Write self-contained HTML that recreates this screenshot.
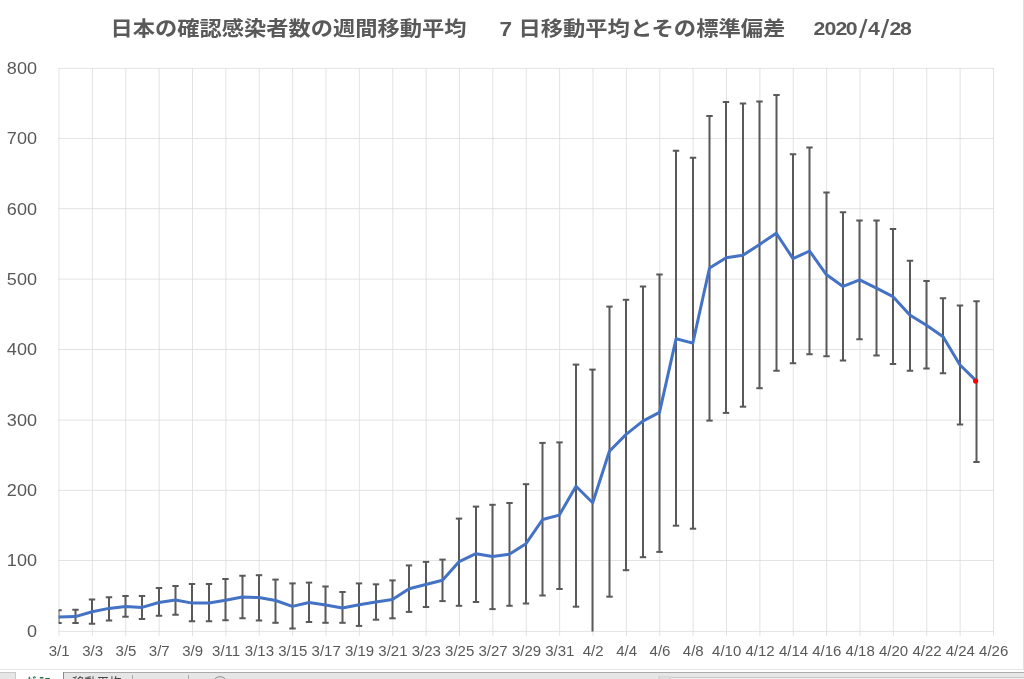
<!DOCTYPE html>
<html lang="ja"><head><meta charset="utf-8"><title>日本の確認感染者数の週間移動平均</title>
<style>
html,body{margin:0;padding:0;background:#fff;}
body{width:1024px;height:679px;overflow:hidden;position:relative;font-family:"Liberation Sans","Noto Sans CJK JP",sans-serif;}
svg{position:absolute;left:0;top:0;display:block}
.ttl{font-family:"Liberation Sans","Noto Sans CJK JP",sans-serif;font-weight:700;fill:#595959}
.ax{font-family:"Liberation Sans","Noto Sans CJK JP",sans-serif;fill:#595959}
</style></head><body>
<svg width="1024" height="679" viewBox="0 0 1024 679">
<rect x="0" y="0" width="1024" height="679" fill="#ffffff"/>
<rect x="1023" y="0" width="1" height="670" fill="#e0e0e0"/>
<rect x="0" y="669" width="1024" height="1" fill="#e6e6e6"/>
<g stroke="#d9d9d9" stroke-width="0.75" fill="none">
<line x1="58.60" x2="993.90" y1="631.40" y2="631.40"/>
<line x1="58.60" x2="993.90" y1="560.50" y2="560.50"/>
<line x1="58.60" x2="993.90" y1="490.40" y2="490.40"/>
<line x1="58.60" x2="993.90" y1="420.10" y2="420.10"/>
<line x1="58.60" x2="993.90" y1="349.50" y2="349.50"/>
<line x1="58.60" x2="993.90" y1="279.10" y2="279.10"/>
<line x1="58.60" x2="993.90" y1="208.65" y2="208.65"/>
<line x1="58.60" x2="993.90" y1="138.45" y2="138.45"/>
<line x1="58.60" x2="993.90" y1="68.45" y2="68.45"/>
<line x1="59.00" x2="59.00" y1="68.0" y2="636"/>
<line x1="92.38" x2="92.38" y1="68.0" y2="636"/>
<line x1="125.75" x2="125.75" y1="68.0" y2="636"/>
<line x1="159.12" x2="159.12" y1="68.0" y2="636"/>
<line x1="192.50" x2="192.50" y1="68.0" y2="636"/>
<line x1="225.88" x2="225.88" y1="68.0" y2="636"/>
<line x1="259.25" x2="259.25" y1="68.0" y2="636"/>
<line x1="292.62" x2="292.62" y1="68.0" y2="636"/>
<line x1="326.00" x2="326.00" y1="68.0" y2="636"/>
<line x1="359.38" x2="359.38" y1="68.0" y2="636"/>
<line x1="392.75" x2="392.75" y1="68.0" y2="636"/>
<line x1="426.12" x2="426.12" y1="68.0" y2="636"/>
<line x1="459.50" x2="459.50" y1="68.0" y2="636"/>
<line x1="492.88" x2="492.88" y1="68.0" y2="636"/>
<line x1="526.25" x2="526.25" y1="68.0" y2="636"/>
<line x1="559.62" x2="559.62" y1="68.0" y2="636"/>
<line x1="593.00" x2="593.00" y1="68.0" y2="636"/>
<line x1="626.38" x2="626.38" y1="68.0" y2="636"/>
<line x1="659.75" x2="659.75" y1="68.0" y2="636"/>
<line x1="693.12" x2="693.12" y1="68.0" y2="636"/>
<line x1="726.50" x2="726.50" y1="68.0" y2="636"/>
<line x1="759.88" x2="759.88" y1="68.0" y2="636"/>
<line x1="793.25" x2="793.25" y1="68.0" y2="636"/>
<line x1="826.62" x2="826.62" y1="68.0" y2="636"/>
<line x1="860.00" x2="860.00" y1="68.0" y2="636"/>
<line x1="893.38" x2="893.38" y1="68.0" y2="636"/>
<line x1="926.75" x2="926.75" y1="68.0" y2="636"/>
<line x1="960.12" x2="960.12" y1="68.0" y2="636"/>
<line x1="993.50" x2="993.50" y1="68.0" y2="636"/>
</g>
<defs><clipPath id="plotclip"><rect x="58.6" y="60" width="940" height="571.9"/></clipPath></defs>
<g clip-path="url(#plotclip)">
<g stroke="#595959" stroke-width="2" fill="none">
<line x1="58.5" x2="58.5" y1="610.3" y2="623.0"/>
<line x1="55.3" x2="61.7" y1="610.3" y2="610.3"/>
<line x1="55.3" x2="61.7" y1="623.0" y2="623.0"/>
<line x1="75.5" x2="75.5" y1="609.7" y2="623.0"/>
<line x1="72.3" x2="78.7" y1="609.7" y2="609.7"/>
<line x1="72.3" x2="78.7" y1="623.0" y2="623.0"/>
<line x1="92.0" x2="92.0" y1="599.6" y2="623.8"/>
<line x1="88.8" x2="95.2" y1="599.6" y2="599.6"/>
<line x1="88.8" x2="95.2" y1="623.8" y2="623.8"/>
<line x1="109.0" x2="109.0" y1="597.2" y2="620.5"/>
<line x1="105.8" x2="112.2" y1="597.2" y2="597.2"/>
<line x1="105.8" x2="112.2" y1="620.5" y2="620.5"/>
<line x1="125.5" x2="125.5" y1="595.9" y2="616.8"/>
<line x1="122.3" x2="128.7" y1="595.9" y2="595.9"/>
<line x1="122.3" x2="128.7" y1="616.8" y2="616.8"/>
<line x1="142.0" x2="142.0" y1="595.9" y2="618.9"/>
<line x1="138.8" x2="145.2" y1="595.9" y2="595.9"/>
<line x1="138.8" x2="145.2" y1="618.9" y2="618.9"/>
<line x1="159.0" x2="159.0" y1="587.9" y2="615.8"/>
<line x1="155.8" x2="162.2" y1="587.9" y2="587.9"/>
<line x1="155.8" x2="162.2" y1="615.8" y2="615.8"/>
<line x1="175.5" x2="175.5" y1="585.9" y2="614.8"/>
<line x1="172.3" x2="178.7" y1="585.9" y2="585.9"/>
<line x1="172.3" x2="178.7" y1="614.8" y2="614.8"/>
<line x1="192.0" x2="192.0" y1="584.1" y2="621.2"/>
<line x1="188.8" x2="195.2" y1="584.1" y2="584.1"/>
<line x1="188.8" x2="195.2" y1="621.2" y2="621.2"/>
<line x1="209.0" x2="209.0" y1="584.1" y2="621.2"/>
<line x1="205.8" x2="212.2" y1="584.1" y2="584.1"/>
<line x1="205.8" x2="212.2" y1="621.2" y2="621.2"/>
<line x1="225.5" x2="225.5" y1="579.1" y2="620.3"/>
<line x1="222.3" x2="228.7" y1="579.1" y2="579.1"/>
<line x1="222.3" x2="228.7" y1="620.3" y2="620.3"/>
<line x1="242.5" x2="242.5" y1="575.7" y2="618.3"/>
<line x1="239.3" x2="245.7" y1="575.7" y2="575.7"/>
<line x1="239.3" x2="245.7" y1="618.3" y2="618.3"/>
<line x1="259.0" x2="259.0" y1="575.2" y2="620.5"/>
<line x1="255.8" x2="262.2" y1="575.2" y2="575.2"/>
<line x1="255.8" x2="262.2" y1="620.5" y2="620.5"/>
<line x1="275.5" x2="275.5" y1="579.6" y2="622.8"/>
<line x1="272.3" x2="278.7" y1="579.6" y2="579.6"/>
<line x1="272.3" x2="278.7" y1="622.8" y2="622.8"/>
<line x1="292.5" x2="292.5" y1="583.4" y2="628.5"/>
<line x1="289.3" x2="295.7" y1="583.4" y2="583.4"/>
<line x1="289.3" x2="295.7" y1="628.5" y2="628.5"/>
<line x1="309.0" x2="309.0" y1="582.6" y2="622.0"/>
<line x1="305.8" x2="312.2" y1="582.6" y2="582.6"/>
<line x1="305.8" x2="312.2" y1="622.0" y2="622.0"/>
<line x1="325.5" x2="325.5" y1="586.5" y2="622.8"/>
<line x1="322.3" x2="328.7" y1="586.5" y2="586.5"/>
<line x1="322.3" x2="328.7" y1="622.8" y2="622.8"/>
<line x1="342.5" x2="342.5" y1="592.0" y2="622.8"/>
<line x1="339.3" x2="345.7" y1="592.0" y2="592.0"/>
<line x1="339.3" x2="345.7" y1="622.8" y2="622.8"/>
<line x1="359.0" x2="359.0" y1="583.4" y2="625.9"/>
<line x1="355.8" x2="362.2" y1="583.4" y2="583.4"/>
<line x1="355.8" x2="362.2" y1="625.9" y2="625.9"/>
<line x1="376.0" x2="376.0" y1="584.3" y2="619.7"/>
<line x1="372.8" x2="379.2" y1="584.3" y2="584.3"/>
<line x1="372.8" x2="379.2" y1="619.7" y2="619.7"/>
<line x1="392.5" x2="392.5" y1="580.4" y2="618.3"/>
<line x1="389.3" x2="395.7" y1="580.4" y2="580.4"/>
<line x1="389.3" x2="395.7" y1="618.3" y2="618.3"/>
<line x1="409.0" x2="409.0" y1="565.4" y2="611.9"/>
<line x1="405.8" x2="412.2" y1="565.4" y2="565.4"/>
<line x1="405.8" x2="412.2" y1="611.9" y2="611.9"/>
<line x1="426.0" x2="426.0" y1="561.9" y2="607.0"/>
<line x1="422.8" x2="429.2" y1="561.9" y2="561.9"/>
<line x1="422.8" x2="429.2" y1="607.0" y2="607.0"/>
<line x1="442.5" x2="442.5" y1="559.6" y2="601.1"/>
<line x1="439.3" x2="445.7" y1="559.6" y2="559.6"/>
<line x1="439.3" x2="445.7" y1="601.1" y2="601.1"/>
<line x1="459.0" x2="459.0" y1="518.6" y2="605.8"/>
<line x1="455.8" x2="462.2" y1="518.6" y2="518.6"/>
<line x1="455.8" x2="462.2" y1="605.8" y2="605.8"/>
<line x1="476.0" x2="476.0" y1="506.6" y2="602.0"/>
<line x1="472.8" x2="479.2" y1="506.6" y2="506.6"/>
<line x1="472.8" x2="479.2" y1="602.0" y2="602.0"/>
<line x1="492.5" x2="492.5" y1="504.8" y2="609.1"/>
<line x1="489.3" x2="495.7" y1="504.8" y2="504.8"/>
<line x1="489.3" x2="495.7" y1="609.1" y2="609.1"/>
<line x1="509.5" x2="509.5" y1="503.0" y2="605.8"/>
<line x1="506.3" x2="512.7" y1="503.0" y2="503.0"/>
<line x1="506.3" x2="512.7" y1="605.8" y2="605.8"/>
<line x1="526.0" x2="526.0" y1="484.2" y2="603.5"/>
<line x1="522.8" x2="529.2" y1="484.2" y2="484.2"/>
<line x1="522.8" x2="529.2" y1="603.5" y2="603.5"/>
<line x1="542.5" x2="542.5" y1="442.9" y2="595.5"/>
<line x1="539.3" x2="545.7" y1="442.9" y2="442.9"/>
<line x1="539.3" x2="545.7" y1="595.5" y2="595.5"/>
<line x1="559.5" x2="559.5" y1="442.4" y2="589.0"/>
<line x1="556.3" x2="562.7" y1="442.4" y2="442.4"/>
<line x1="556.3" x2="562.7" y1="589.0" y2="589.0"/>
<line x1="576.0" x2="576.0" y1="364.6" y2="606.7"/>
<line x1="572.8" x2="579.2" y1="364.6" y2="364.6"/>
<line x1="572.8" x2="579.2" y1="606.7" y2="606.7"/>
<line x1="592.5" x2="592.5" y1="369.6" y2="631.4"/>
<line x1="589.3" x2="595.7" y1="369.6" y2="369.6"/>
<line x1="609.5" x2="609.5" y1="306.6" y2="596.7"/>
<line x1="606.3" x2="612.7" y1="306.6" y2="306.6"/>
<line x1="606.3" x2="612.7" y1="596.7" y2="596.7"/>
<line x1="626.0" x2="626.0" y1="299.8" y2="570.2"/>
<line x1="622.8" x2="629.2" y1="299.8" y2="299.8"/>
<line x1="622.8" x2="629.2" y1="570.2" y2="570.2"/>
<line x1="643.0" x2="643.0" y1="286.5" y2="557.2"/>
<line x1="639.8" x2="646.2" y1="286.5" y2="286.5"/>
<line x1="639.8" x2="646.2" y1="557.2" y2="557.2"/>
<line x1="659.5" x2="659.5" y1="274.5" y2="551.9"/>
<line x1="656.3" x2="662.7" y1="274.5" y2="274.5"/>
<line x1="656.3" x2="662.7" y1="551.9" y2="551.9"/>
<line x1="676.0" x2="676.0" y1="150.7" y2="525.7"/>
<line x1="672.8" x2="679.2" y1="150.7" y2="150.7"/>
<line x1="672.8" x2="679.2" y1="525.7" y2="525.7"/>
<line x1="693.0" x2="693.0" y1="157.8" y2="528.7"/>
<line x1="689.8" x2="696.2" y1="157.8" y2="157.8"/>
<line x1="689.8" x2="696.2" y1="528.7" y2="528.7"/>
<line x1="709.5" x2="709.5" y1="116.0" y2="420.6"/>
<line x1="706.3" x2="712.7" y1="116.0" y2="116.0"/>
<line x1="706.3" x2="712.7" y1="420.6" y2="420.6"/>
<line x1="726.0" x2="726.0" y1="102.1" y2="412.9"/>
<line x1="722.8" x2="729.2" y1="102.1" y2="102.1"/>
<line x1="722.8" x2="729.2" y1="412.9" y2="412.9"/>
<line x1="743.0" x2="743.0" y1="103.6" y2="406.7"/>
<line x1="739.8" x2="746.2" y1="103.6" y2="103.6"/>
<line x1="739.8" x2="746.2" y1="406.7" y2="406.7"/>
<line x1="759.5" x2="759.5" y1="101.5" y2="388.2"/>
<line x1="756.3" x2="762.7" y1="101.5" y2="101.5"/>
<line x1="756.3" x2="762.7" y1="388.2" y2="388.2"/>
<line x1="776.5" x2="776.5" y1="95.0" y2="370.7"/>
<line x1="773.3" x2="779.7" y1="95.0" y2="95.0"/>
<line x1="773.3" x2="779.7" y1="370.7" y2="370.7"/>
<line x1="793.0" x2="793.0" y1="154.3" y2="363.3"/>
<line x1="789.8" x2="796.2" y1="154.3" y2="154.3"/>
<line x1="789.8" x2="796.2" y1="363.3" y2="363.3"/>
<line x1="809.5" x2="809.5" y1="147.4" y2="354.2"/>
<line x1="806.3" x2="812.7" y1="147.4" y2="147.4"/>
<line x1="806.3" x2="812.7" y1="354.2" y2="354.2"/>
<line x1="826.5" x2="826.5" y1="192.4" y2="356.3"/>
<line x1="823.3" x2="829.7" y1="192.4" y2="192.4"/>
<line x1="823.3" x2="829.7" y1="356.3" y2="356.3"/>
<line x1="843.0" x2="843.0" y1="212.2" y2="360.4"/>
<line x1="839.8" x2="846.2" y1="212.2" y2="212.2"/>
<line x1="839.8" x2="846.2" y1="360.4" y2="360.4"/>
<line x1="859.5" x2="859.5" y1="220.4" y2="339.2"/>
<line x1="856.3" x2="862.7" y1="220.4" y2="220.4"/>
<line x1="856.3" x2="862.7" y1="339.2" y2="339.2"/>
<line x1="876.5" x2="876.5" y1="220.4" y2="355.4"/>
<line x1="873.3" x2="879.7" y1="220.4" y2="220.4"/>
<line x1="873.3" x2="879.7" y1="355.4" y2="355.4"/>
<line x1="893.0" x2="893.0" y1="229.0" y2="363.9"/>
<line x1="889.8" x2="896.2" y1="229.0" y2="229.0"/>
<line x1="889.8" x2="896.2" y1="363.9" y2="363.9"/>
<line x1="910.0" x2="910.0" y1="260.8" y2="370.7"/>
<line x1="906.8" x2="913.2" y1="260.8" y2="260.8"/>
<line x1="906.8" x2="913.2" y1="370.7" y2="370.7"/>
<line x1="926.5" x2="926.5" y1="281.1" y2="368.6"/>
<line x1="923.3" x2="929.7" y1="281.1" y2="281.1"/>
<line x1="923.3" x2="929.7" y1="368.6" y2="368.6"/>
<line x1="943.0" x2="943.0" y1="298.2" y2="373.3"/>
<line x1="939.8" x2="946.2" y1="298.2" y2="298.2"/>
<line x1="939.8" x2="946.2" y1="373.3" y2="373.3"/>
<line x1="960.0" x2="960.0" y1="305.6" y2="424.6"/>
<line x1="956.8" x2="963.2" y1="305.6" y2="305.6"/>
<line x1="956.8" x2="963.2" y1="424.6" y2="424.6"/>
<line x1="976.5" x2="976.5" y1="301.3" y2="462.0"/>
<line x1="973.3" x2="979.7" y1="301.3" y2="301.3"/>
<line x1="973.3" x2="979.7" y1="462.0" y2="462.0"/>
</g>
<polyline points="58.7,617.1 75.4,616.6 92.1,611.7 108.8,608.4 125.5,606.4 142.1,607.4 158.8,602.5 175.5,600.0 192.2,603.1 208.9,603.1 225.6,600.2 242.3,597.0 258.9,597.6 275.6,600.5 292.3,606.4 309.0,602.5 325.7,605.0 342.4,608.0 359.1,604.8 375.8,601.9 392.4,599.6 409.1,588.8 425.8,584.5 442.5,580.2 459.2,561.6 475.9,553.7 492.6,556.6 509.3,554.3 526.0,543.7 542.6,519.5 559.3,515.1 576.0,486.2 592.7,502.7 609.4,451.2 626.1,434.4 642.8,421.1 659.5,412.3 676.1,338.7 692.8,343.1 709.5,268.0 726.2,257.7 742.9,255.3 759.6,244.4 776.3,233.2 793.0,258.6 809.6,251.0 826.3,274.6 843.0,286.4 859.7,279.9 876.4,288.2 893.1,296.7 909.8,315.0 926.5,325.3 943.1,336.8 959.8,364.8 976.5,381.1" fill="none" stroke="#4472c4" stroke-width="3" stroke-linejoin="round" stroke-linecap="round"/>
<circle cx="975.6" cy="381.1" r="2.6" fill="#ff0000"/>
</g>
<g class="ax" font-size="16.5">
<text x="26.95" y="637.3" textLength="10.05" lengthAdjust="spacingAndGlyphs">0</text>
<text x="6.85" y="566.4" textLength="30.15" lengthAdjust="spacingAndGlyphs">100</text>
<text x="6.85" y="496.3" textLength="30.15" lengthAdjust="spacingAndGlyphs">200</text>
<text x="6.85" y="426.0" textLength="30.15" lengthAdjust="spacingAndGlyphs">300</text>
<text x="6.85" y="355.4" textLength="30.15" lengthAdjust="spacingAndGlyphs">400</text>
<text x="6.85" y="285.0" textLength="30.15" lengthAdjust="spacingAndGlyphs">500</text>
<text x="6.85" y="214.6" textLength="30.15" lengthAdjust="spacingAndGlyphs">600</text>
<text x="6.85" y="144.3" textLength="30.15" lengthAdjust="spacingAndGlyphs">700</text>
<text x="6.85" y="74.4" textLength="30.15" lengthAdjust="spacingAndGlyphs">800</text>
</g>
<g class="ax" font-size="15" text-anchor="middle">
<text x="59.2" y="656.2">3/1</text>
<text x="92.6" y="656.2">3/3</text>
<text x="126.0" y="656.2">3/5</text>
<text x="159.3" y="656.2">3/7</text>
<text x="192.7" y="656.2">3/9</text>
<text x="226.1" y="656.2">3/11</text>
<text x="259.4" y="656.2">3/13</text>
<text x="292.8" y="656.2">3/15</text>
<text x="326.2" y="656.2">3/17</text>
<text x="359.6" y="656.2">3/19</text>
<text x="392.9" y="656.2">3/21</text>
<text x="426.3" y="656.2">3/23</text>
<text x="459.7" y="656.2">3/25</text>
<text x="493.1" y="656.2">3/27</text>
<text x="526.5" y="656.2">3/29</text>
<text x="559.8" y="656.2">3/31</text>
<text x="593.2" y="656.2">4/2</text>
<text x="626.6" y="656.2">4/4</text>
<text x="660.0" y="656.2">4/6</text>
<text x="693.3" y="656.2">4/8</text>
<text x="726.7" y="656.2">4/10</text>
<text x="760.1" y="656.2">4/12</text>
<text x="793.5" y="656.2">4/14</text>
<text x="826.8" y="656.2">4/16</text>
<text x="860.2" y="656.2">4/18</text>
<text x="893.6" y="656.2">4/20</text>
<text x="927.0" y="656.2">4/22</text>
<text x="960.3" y="656.2">4/24</text>
<text x="993.7" y="656.2">4/26</text>
</g>
<g class="ttl" font-size="20.3">
<text y="36.1"><tspan x="110.6" textLength="356" lengthAdjust="spacingAndGlyphs">日本の確認感染者数の週間移動平均</tspan><tspan x="499.6" y="35.6" font-size="19.5" textLength="12.6" lengthAdjust="spacingAndGlyphs">7</tspan><tspan x="518.4" y="36.1" textLength="267" lengthAdjust="spacingAndGlyphs">日移動平均とその標準偏差</tspan></text>
<text transform="translate(813.5 34.9) scale(1.18 1)" font-size="18"><tspan x="0.00 9.24 18.56 27.37" y="0">2020</tspan><tspan x="38.56" y="3.2" font-size="26" font-weight="400">/</tspan><tspan x="46.19" y="0">4</tspan><tspan x="56.95" y="3.2" font-size="26" font-weight="400">/</tspan><tspan x="64.32 73.22" y="0">28</tspan></text>
</g>
<rect x="0" y="670" width="1024" height="2" fill="#ffffff"/>
<rect x="0" y="672" width="1024" height="7" fill="#e6e6e6"/>
<rect x="63" y="672" width="961" height="1" fill="#ababab"/>
<rect x="0" y="672" width="15" height="1" fill="#c8c8c8"/>
<rect x="15" y="672" width="48" height="7" fill="#ffffff"/>
<rect x="15" y="672" width="1" height="7" fill="#c8c8c8"/>
<rect x="63" y="672" width="1" height="7" fill="#8a8a8a"/>
<rect x="132" y="675" width="1" height="4" fill="#ababab"/>
<rect x="188" y="675" width="1" height="4" fill="#ababab"/>
<circle cx="220" cy="684.3" r="7.6" fill="none" stroke="#8a8a8a" stroke-width="1"/>
<rect x="659" y="677" width="11" height="2" fill="#f0f0f0" stroke="#c0c0c0" stroke-width="0.8"/>
<rect x="671" y="677" width="353" height="1" fill="#c8c8c8"/>
<rect x="671" y="678" width="353" height="1" fill="#f0f0f0"/>
<text x="26.4" y="687.2" font-size="12" font-weight="700" class="ax" style="fill:#217346">ｸﾞﾗﾌ</text>
<text x="72" y="687.2" font-size="12.4" class="ax" style="fill:#444">移動平均</text>
<text x="142" y="687.8" font-size="12" class="ax" style="fill:#444">Sheet1</text>
</svg>
</body></html>
